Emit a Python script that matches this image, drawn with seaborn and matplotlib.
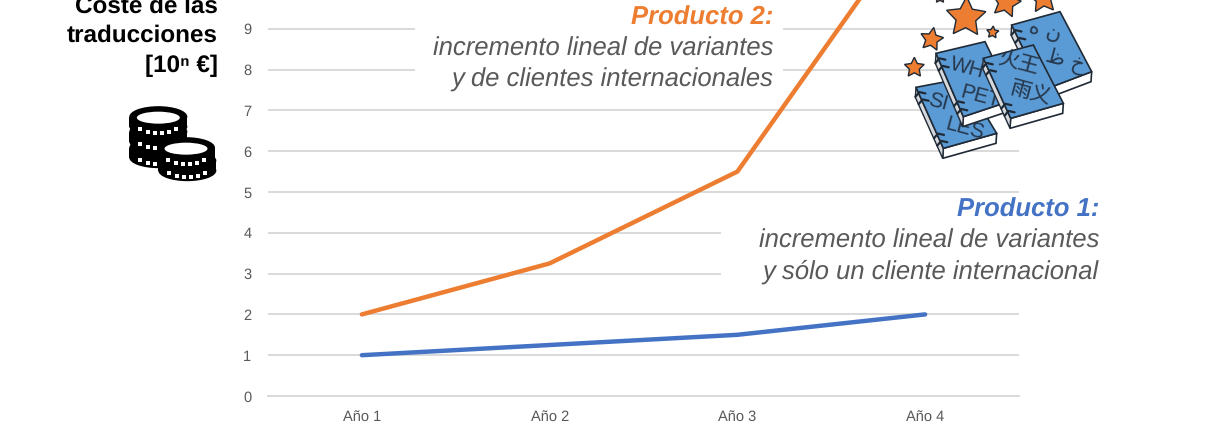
import numpy as np
import pandas as pd
import matplotlib
matplotlib.use("Agg")
import matplotlib.pyplot as plt
from matplotlib.patches import Polygon, Ellipse, Rectangle
import seaborn as sns

# --- data ---
years = ["Año 1", "Año 2", "Año 3", "Año 4"]
producto_1 = [1, 1.25, 1.5, 2]
producto_2 = [2, 3.25, 5.5, 12]
y_ticks = [0, 1, 2, 3, 4, 5, 6, 7, 8, 9]

ORANGE = "#ED7D31"
BLUE = "#4472C4"
GRID = "#D9D9D9"
TEXT_GREY = "#595959"
BOOK_BLUE = "#5B9BD5"
DARK = "#1F2A36"

df = pd.DataFrame({
    "year": years * 2,
    "coste": producto_1 + producto_2,
    "producto": ["Producto 1"] * 4 + ["Producto 2"] * 4,
})

sns.set_theme(style="white")
plt.rcParams["font.family"] = ["Liberation Sans", "DejaVu Sans"]
plt.rcParams["text.hinting"] = "no_hinting"

W, H = 1210, 423
fig = plt.figure(figsize=(W / 100, H / 100), dpi=100)
ax = fig.add_axes([268 / W, (H - 396) / H, (1019 - 268) / W, 396 / H])

sns.lineplot(
    data=df, x="year", y="coste", hue="producto",
    palette=[BLUE, ORANGE], linewidth=3.2, legend=False, ax=ax,
    estimator=None, errorbar=None, solid_capstyle="round",
)

ax.set_xlim(-0.5, 3.5)
ax.set_ylim(0, 396 / 40.8)
ax.set_yticks(y_ticks)
ax.set_xlabel("")
ax.set_ylabel("")
ax.grid(axis="y", color=GRID, linewidth=1.4)
ax.set_axisbelow(True)
sns.despine(ax=ax, left=True, top=True, right=True)
ax.spines["bottom"].set_color(GRID)
ax.spines["bottom"].set_linewidth(1.4)
ax.tick_params(axis="both", length=0, labelsize=10.5, labelcolor=TEXT_GREY)
ax.tick_params(axis="x", pad=10)
ax.tick_params(axis="y", pad=12)

# overlay in pixel coordinates for the labels and the clip-art
ov = fig.add_axes([0, 0, 1, 1], facecolor="none")
ov.set_xlim(0, W)
ov.set_ylim(H, 0)
ov.axis("off")

# white boxes that sit behind the annotations and cut the grid lines
ov.add_patch(Rectangle((415, 10), 368, 90, fc="white", ec="none", zorder=1))
ov.add_patch(Rectangle((721, 195), 385, 95, fc="white", ec="none", zorder=1))

def label(x, y, s, **kw):
    ov.text(x, y, s, ha="right", va="baseline", zorder=5, **kw)

label(773, 25, "Producto 2:", color=ORANGE, fontsize=18.45, fontweight="bold", fontstyle="italic")
label(773, 56, "incremento lineal de variantes", color=TEXT_GREY, fontsize=18.45, fontstyle="italic")
label(773, 87, "y de clientes internacionales", color=TEXT_GREY, fontsize=18.45, fontstyle="italic")
label(1099, 217, "Producto 1:", color=BLUE, fontsize=18.45, fontweight="bold", fontstyle="italic")
label(1099, 248, "incremento lineal de variantes", color=TEXT_GREY, fontsize=18.45, fontstyle="italic")
label(1099, 279, "y sólo un cliente internacional", color=TEXT_GREY, fontsize=18.45, fontstyle="italic")

label(218, 13, "Coste de las", color="black", fontsize=17.5, fontweight="bold")
label(218, 42, "traducciones", color="black", fontsize=17.5, fontweight="bold")
label(218, 72, "[10ⁿ €]", color="black", fontsize=17.5, fontweight="bold")


# --- coins (coordinates come from a 3x crop with origin at 50,0) ---
def coin(cx, cy, hole=False):
    x, y = 50 + cx / 3, cy / 3
    ov.add_patch(Rectangle((x - 29, y), 58, 10, fc="black", ec="none", zorder=6))
    ov.add_patch(Ellipse((x, y), 58, 21, fc="black", ec="none", zorder=6))
    ov.add_patch(Ellipse((x, y + 10), 58, 21, fc="black", ec="none", zorder=6))
    xs = x + np.array([-18, -10, -3, 4, 11, 18])
    ys = y + 15 + np.array([-2.5, 0, 1, 1, 0, -2.5])
    ov.scatter(xs, ys, s=5, marker="s", color="white", linewidths=0, zorder=6)
    if hole:
        ov.add_patch(Ellipse((x, y + 1), 43, 12, fc="white", ec="none", zorder=6))

coin(325, 443)
coin(325, 395)
coin(325, 350, hole=True)
coin(412, 482)
coin(408, 443, hole=True)


# --- books and stars (coordinates come from a 3x crop with origin at 880,0) ---
def bk(pts):
    return [(880 + x / 3, y / 3) for x, y in pts]

def star(cx, cy, r, rot=0):
    a = np.deg2rad(np.arange(10) * 36 - 90 + rot)
    rad = np.where(np.arange(10) % 2 == 0, r, r * 0.5)
    pts = np.column_stack([cx + rad * np.cos(a), cy + rad * np.sin(a)])
    ov.add_patch(Polygon(bk(pts), closed=True, fc=ORANGE, ec=DARK, lw=1, zorder=6))

def book(c, z, lines, rot, fam):
    # c: cover corners top-left, top-right, bottom-right, bottom-left
    c = np.array(c, float)
    drop = np.array([-2, 30])
    ov.add_patch(Polygon(bk([c[3], c[2], c[2] + drop, c[3] + drop]), closed=True,
                         fc="white", ec=DARK, lw=1.2, zorder=z))
    ov.add_patch(Polygon(bk([c[0], c[3], c[3] + drop, c[0] + drop]), closed=True,
                         fc="#D5D8DC", ec=DARK, lw=1, zorder=z))
    ov.add_patch(Polygon(bk(c), closed=True, fc=BOOK_BLUE, ec=DARK, lw=1.2, zorder=z))
    # binding rings
    for t in (0.1, 0.22, 0.78, 0.9):
        p = c[0] + (c[3] - c[0]) * t
        ring = bk([p + (-10, 10), p + (2, -4), p + (20, 0)])
        ov.plot(*zip(*ring), color=DARK, lw=1.6, zorder=z, solid_capstyle="round")
    for x, y, s in lines:
        ov.text(880 + x / 3, y / 3, s, ha="center", va="center", rotation=rot,
                rotation_mode="anchor", fontsize=15, color="#26384D", zorder=z,
                family=fam)

book([(395, 75), (540, 35), (635, 215), (490, 270)], 7,
     [(495, 90, "ه ن"), (555, 185, "ظ خ")], -15, ["DejaVu Sans"])
book([(108, 262), (250, 235), (350, 400), (190, 445)], 7.2,
     [(175, 305, "SI"), (255, 385, "LES")], -15, ["Liberation Sans"])
book([(168, 160), (315, 125), (400, 300), (250, 350)], 7.4,
     [(260, 205, "WH"), (300, 290, "PET")], -15, ["Liberation Sans"])
book([(310, 175), (460, 135), (550, 310), (392, 355)], 7.6,
     [(415, 190, "火王"), (450, 280, "雨义")], -15, ["Noto Sans CJK SC"])

star(258, 52, 62, 2)
star(155, 118, 36, 10)
star(338, 97, 19, 5)
star(103, 203, 31, 0)
star(378, 8, 46, 12)
star(490, -5, 46, -5)
star(180, -8, 18, 0)

fig.savefig("out.png", dpi=100)
plt.close(fig)
